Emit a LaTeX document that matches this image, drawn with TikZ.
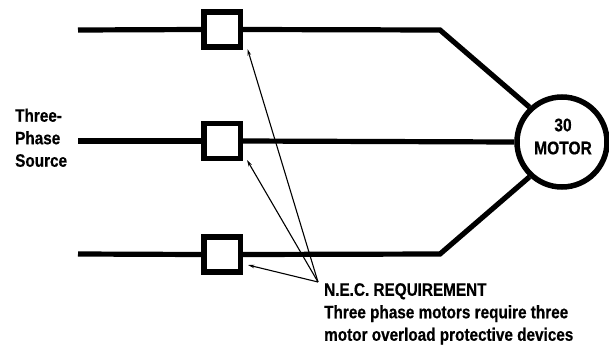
\documentclass[tikz,border=0pt]{standalone}
\usepackage{fontspec}
\setmainfont[FakeStretch=0.85,BoldFeatures={FakeBold=0.5}]{Liberation Sans}
\usetikzlibrary{arrows.meta}
\tikzset{
  wire/.style={line width=5.2pt,line join=miter},
  fuse/.style={draw,line width=5.5pt,fill=white,minimum width=36.5pt,minimum height=35pt,inner sep=0pt},
  motor/.style={circle,draw,line width=5.5pt,fill=white,minimum size=90pt,inner sep=0pt},
  motorlbl/.style={inner sep=0pt,align=center,font=\bfseries\fontsize{18.3}{23}\selectfont},
  lbl/.style={inner sep=0pt,align=left,font=\bfseries\fontsize{18}{22.5}\selectfont},
  pointer/.style={line width=1.1pt,-{Stealth[length=6.5pt,width=3.5pt]}}
}
\begin{document}
\begin{tikzpicture}[x=1pt,y=-1pt]
\useasboundingbox (0,0) rectangle (609,348);
\fill[white] (0,0) rectangle (609,348);
\coordinate (s1) at (78,30);
\coordinate (s2) at (78,141);
\coordinate (s3) at (78,254);
\coordinate (b1) at (440,30);
\coordinate (b3) at (440,254);
\node[fuse] (f1) at (222,29.5) {};
\node[fuse] (f2) at (222,141) {};
\node[fuse] (f3) at (222,254.5) {};
\node[motor] (m) at (562,142) {};
\node[motorlbl,yshift=5.5pt,xshift=1pt] (mt) at (m.center) {30\\MOTOR};
\draw[wire] (s1) -- (f1.west);
\draw[wire] (s2) -- (f2.west);
\draw[wire] (s3) -- (f3.west);
\draw[wire] (f1.east) -- (b1) -- (m.133);
\draw[wire] (f2.east) -- (m.west);
\draw[wire] (f3.east) -- (b3) -- (m.227);
\node[lbl,anchor=north west] (src) at (15,108.5) {Three-\\Phase\\Source};
\node[lbl,anchor=north west] (req) at (324,283) {N.E.C. REQUIREMENT\\Three phase motors require three\\motor overload protective devices};
\coordinate (j) at (318,282);
\coordinate (t1) at (247.5,49);
\coordinate (t2) at (247,160);
\coordinate (t3) at (248,265);
\draw[pointer] (j) -- (t1);
\draw[pointer] (j) -- (t2);
\draw[pointer] (j) -- (t3);
\end{tikzpicture}
\end{document}
